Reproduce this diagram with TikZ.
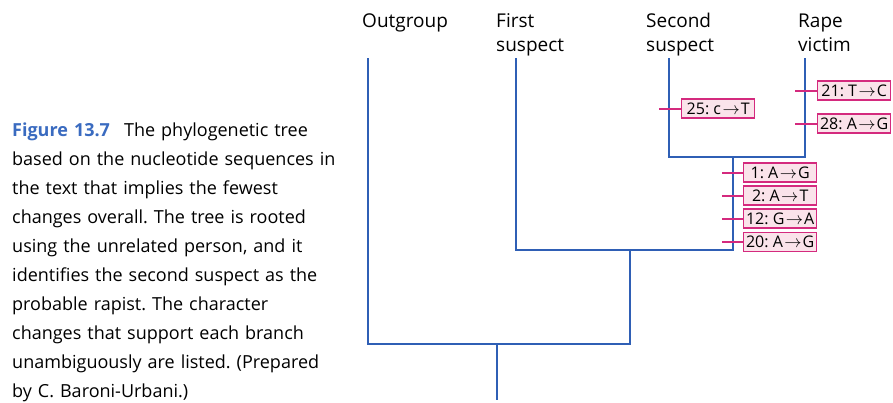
\documentclass[tikz,border=0pt]{standalone}
\usepackage{fontspec}
\setmainfont{Open Sans}
\frenchspacing
\definecolor{treeblue}{HTML}{2F5FB5}
\definecolor{capblue}{HTML}{3A6BC0}
\definecolor{mag}{HTML}{D42A7E}
\definecolor{pinkfill}{HTML}{FAE3EA}
\newcommand{\arr}{\kern1.5pt$\rightarrow$\kern1pt}
\tikzset{
  branch/.style={draw=treeblue, line width=1.8pt},
  tickline/.style={draw=mag, line width=2pt},
  chg/.style={draw=mag, fill=pinkfill, line width=1.4pt, minimum width=73pt, minimum height=19pt, inner sep=0pt, font=\fontsize{16}{16}\selectfont, anchor=west},
  taxon/.style={anchor=base west, font=\fontsize{19}{24}\selectfont, inner sep=0pt},
}
\begin{document}
\begin{tikzpicture}[x=1pt,y=-1pt]
\useasboundingbox (0,0) rectangle (893,402);
% caption
\node[anchor=base west, inner sep=0pt, text width=355pt, align=left,
  font=\fontsize{18}{29}\selectfont] (cap) at (12,136)
  {{\bfseries\color{capblue}Figure 13.7}\hspace{0.45em} The phylogenetic tree\\
   based on the nucleotide sequences in\\
   the text that implies the fewest\\
   changes overall. The tree is rooted\\
   using the unrelated person, and it\\
   identifies the second suspect as the\\
   probable rapist. The character\\
   changes that support each branch\\
   unambiguously are listed. (Prepared\\
   by C. Baroni-Urbani.)};
% taxa
\node[taxon] (og) at (362,27) {Outgroup};
\node[taxon] (fs1) at (496,27) {First};
\node[taxon] (fs2) at (496,51) {suspect};
\node[taxon] (ss1) at (646,27) {Second};
\node[taxon] (ss2) at (646,51) {suspect};
\node[taxon] (rv1) at (798,27) {Rape};
\node[taxon] (rv2) at (798,51) {victim};
% tree coordinates
\coordinate (ogt) at (368,58);
\coordinate (fst) at (516,58);
\coordinate (sst) at (669,58);
\coordinate (rvt) at (805,58);
\coordinate (ogb) at (368,344);
\coordinate (fsb) at (516,250);
\coordinate (ssb) at (669,157);
\coordinate (rvb) at (805,157);
\coordinate (n1) at (733,157);
\coordinate (n1b) at (733,250);
\coordinate (n2) at (630,250);
\coordinate (n2b) at (630,344);
\coordinate (rt) at (497,344);
\coordinate (rb) at (497,400);
\draw[branch] (sst) -- (ssb) -- (rvb) -- (rvt);
\draw[branch] (n1) -- (n1b) -- (fsb) -- (fst);
\draw[branch] (n2) -- (n2b) -- (ogb) -- (ogt);
\draw[branch] (rt) -- (rb);
% changes
\node[chg] (c25) at (681,108.5) {25: c\arr T};
\node[chg] (c21) at (817,90.5) {21: T\arr C};
\node[chg] (c28) at (817,123.5) {28: A\arr G};
\node[chg] (c1) at (743,172.5) {1: A\arr G};
\node[chg] (c2) at (743,195.5) {2: A\arr T};
\node[chg] (c12) at (743,218.5) {12: G\arr A};
\node[chg] (c20) at (743,242) {20: A\arr G};
\coordinate (t25) at (659,108.5);
\coordinate (t21) at (795,90.5);
\coordinate (t28) at (795,123.5);
\coordinate (t1) at (722,172.5);
\coordinate (t2) at (722,195.5);
\coordinate (t12) at (722,218.5);
\coordinate (t20) at (722,242);
\foreach \c in {25,21,28,1,2,12,20} {
  \draw[tickline] (t\c) -- (c\c.west);
}
\end{tikzpicture}
\end{document}
